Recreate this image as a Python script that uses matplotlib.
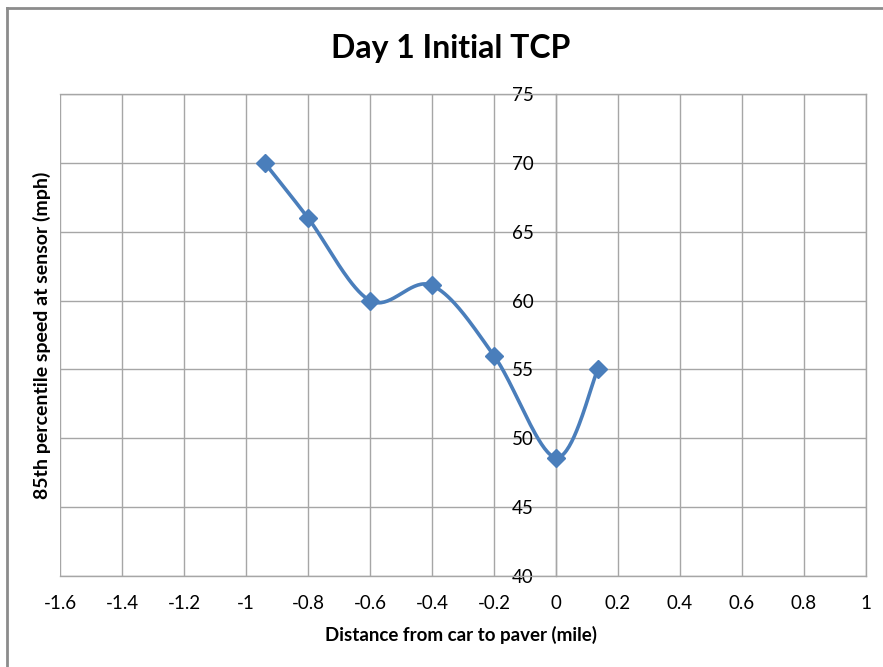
""" Day 1 Initial TCP - 85th percentile speed vs distance """
import numpy as np
import matplotlib
matplotlib.use("Agg")
import matplotlib.pyplot as plt
from matplotlib.lines import Line2D

plt.rcParams['font.family'] = ['Lato', 'DejaVu Sans']

distance = [-0.94, -0.8, -0.6, -0.4, -0.2, 0.0, 0.135]
speed = [70.0, 66.0, 60.0, 61.1, 56.0, 48.6, 55.0]

x_ticks = [-1.6, -1.4, -1.2, -1, -0.8, -0.6, -0.4, -0.2, 0, 0.2, 0.4, 0.6, 0.8, 1]
y_ticks = [40, 45, 50, 55, 60, 65, 70, 75]

LINE_COLOR = '#4a7ebb'
GRID_COLOR = '#a6a6a6'


def smooth(xs, ys, n=40):
    """Excel-style smoothed line (Catmull-Rom through the points)."""
    p = np.column_stack([xs, ys])
    p = np.vstack([p[0], p, p[-1]])
    out = []
    t = np.linspace(0, 1, n)[:, None]
    for i in range(1, len(p) - 2):
        p0, p1, p2, p3 = p[i - 1], p[i], p[i + 1], p[i + 2]
        c1 = p1 + (p2 - p0) / 6
        c2 = p2 - (p3 - p1) / 6
        seg = ((1 - t) ** 3 * p1 + 3 * (1 - t) ** 2 * t * c1
               + 3 * (1 - t) * t ** 2 * c2 + t ** 3 * p2)
        out.append(seg if i == 1 else seg[1:])
    out = np.vstack(out)
    return out[:, 0], out[:, 1]


fig = plt.figure(figsize=(8.83, 6.67), dpi=100)
ax = fig.add_axes([0.068, 0.1364, 0.9127, 0.7227])

sx, sy = smooth(distance, speed)
ax.plot(sx, sy, color=LINE_COLOR, lw=2.6, solid_capstyle='round', zorder=3)
ax.plot(distance, speed, linestyle='none', marker='D', markersize=9.5,
        color=LINE_COLOR, zorder=4)

ax.set_xlim(-1.6, 1)
ax.set_ylim(40, 75)
ax.set_xticks(x_ticks)
ax.set_xticklabels([f"{v:g}" for v in x_ticks])
ax.set_yticks(y_ticks)
ax.grid(True, color=GRID_COLOR, lw=1.0)
ax.set_axisbelow(True)

for s in ax.spines.values():
    s.set_color(GRID_COLOR)
    s.set_linewidth(1.0)
ax.spines['left'].set_position(('data', 0))

ax.tick_params(axis='both', length=0, labelsize=13.5, colors='black')
ax.tick_params(axis='x', pad=14)
ax.tick_params(axis='y', pad=16)

fig.text(0.51, 0.927, "Day 1 Initial TCP", ha='center', va='center',
         fontsize=23, fontweight='bold')
fig.text(0.522, 0.048, "Distance from car to paver (mile)", ha='center',
         va='center', fontsize=13.5, fontweight='bold')
fig.text(0.047, 0.497, "85th percentile speed at sensor (mph)", ha='center',
         va='center', rotation=90, fontsize=14, fontweight='bold')

# outer chart frame (top and left edges visible)
fig.add_artist(Line2D([7 / 883, 1], [1 - 8 / 667, 1 - 8 / 667],
                      transform=fig.transFigure, color='#8c8c8c', lw=2))
fig.add_artist(Line2D([7 / 883, 7 / 883], [0, 1 - 8 / 667],
                      transform=fig.transFigure, color='#8c8c8c', lw=2))

plt.savefig("out.png", dpi=100)
